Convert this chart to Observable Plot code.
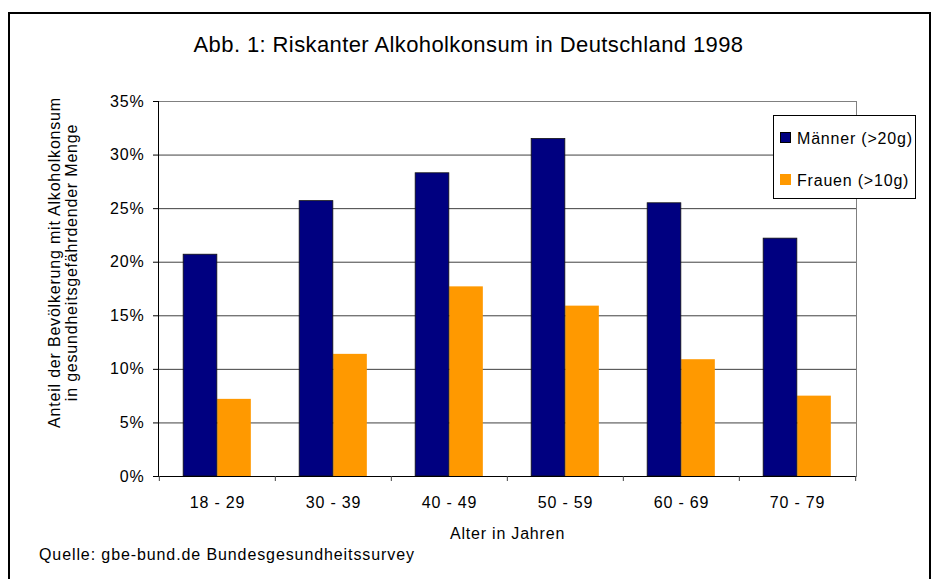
<!DOCTYPE html>
<html>
<head>
<meta charset="utf-8">
<script src="https://cdn.jsdelivr.net/npm/d3@7"></script>
<script src="https://cdn.jsdelivr.net/npm/@observablehq/plot@0.6"></script>
<style>
  html, body { margin: 0; padding: 0; overflow: hidden; background: #fff; }
  #wrap { position: relative; width: 933px; height: 579px; overflow: hidden; font-family: "Liberation Sans", Arial, sans-serif; color: #000; }
  #border { position: absolute; left: 8px; top: 12px; width: 919px; height: 620px; border: 2px solid #000; box-sizing: content-box; }
  #chart { position: absolute; left: 0; top: 0; }
  #title { position: absolute; left: 2px; top: 34px; width: 933px; text-align: center; font-size: 22px; line-height: 22px; letter-spacing: 0.4px; white-space: nowrap; }
  #caption { position: absolute; left: 39px; top: 547px; font-size: 16px; line-height: 16px; letter-spacing: 0.9px; white-space: nowrap; }
  #legend { position: absolute; left: 773px; top: 115px; width: 141px; height: 82px; border: 1px solid #000; background: #fff; font-size: 16px; letter-spacing: 0.8px; }
  .item { position: absolute; left: 6px; white-space: nowrap; }
  .sw { position: absolute; left: 0; width: 11px; height: 11px; box-sizing: border-box; }
  .lt { position: absolute; left: 17px; line-height: 16px; }
</style>
</head>
<body>
<div id="wrap">
  <div id="border"></div>
  <div id="chart"></div>
  <div id="title"></div>
  <div id="legend"></div>
  <div id="caption"></div>
</div>
<script>
// ---- data ----
const ages = ["18 - 29", "30 - 39", "40 - 49", "50 - 59", "60 - 69", "70 - 79"];
const maenner = [20.7, 25.7, 28.3, 31.5, 25.5, 22.2];
const frauen = [7.2, 11.4, 17.7, 15.9, 10.9, 7.5];
const seriesNames = ["Männer (>20g)", "Frauen (>10g)"];
const seriesColors = ["#000080", "#FF9900"];
const yTicks = [0, 5, 10, 15, 20, 25, 30, 35];
const titleText = "Abb. 1: Riskanter Alkoholkonsum in Deutschland 1998";
const yTitle = "Anteil der Bevölkerung mit Alkoholkonsum\nin gesundheitsgefährdender Menge";
const xTitle = "Alter in Jahren";
const captionText = "Quelle: gbe-bund.de Bundesgesundheitssurvey";

// ---- layout ----
const W = 933, H = 579, mL = 158, mR = 77, mT = 101, mB = 103;
const step = (W - mL - mR) / ages.length;
const barW = 34;
const gap = (step - 2 * barW) / 2;

const men = ages.map((a, i) => ({age: a, value: maenner[i]}));
const women = ages.map((a, i) => ({age: a, value: frauen[i]}));

const chart = Plot.plot({
  width: W,
  height: H,
  marginLeft: mL,
  marginRight: mR,
  marginTop: mT,
  marginBottom: mB,
  style: {
    background: "transparent",
    fontFamily: "'Liberation Sans', Arial, sans-serif",
    fontSize: "16px",
    letterSpacing: "0.8px",
    color: "#000",
    overflow: "visible"
  },
  x: {type: "band", domain: ages, padding: 0},
  y: {domain: [0, 35]},
  marks: [
    Plot.ruleY(yTicks.filter(t => t > 0 && t < 35), {stroke: "#404040", strokeWidth: 1}),
    Plot.frame({stroke: "#808080"}),
    Plot.barY(women, {x: "age", y: "value", fill: seriesColors[1], insetLeft: gap + barW, insetRight: gap}),
    Plot.barY(men, {x: "age", y: "value", fill: seriesColors[0], stroke: "#111", strokeWidth: 0.8, insetLeft: gap, insetRight: step - gap - barW}),
    Plot.ruleY([0], {stroke: "#000"}),
    Plot.frame({anchor: "left", stroke: "#000"}),
    Plot.ruleX(ages, {x: d => d, dx: -step / 2, y1: 0, y2: 0, insetBottom: -5, stroke: "#444"}),
    Plot.ruleX([ages[ages.length - 1]], {x: d => d, dx: step / 2, y1: 0, y2: 0, insetBottom: -5, stroke: "#444"}),
    Plot.axisY({ticks: yTicks, tickSize: 5, tickPadding: 9, tickFormat: d => d + "%", label: null, fontSize: 16}),
    Plot.axisX({tickSize: 0, tickPadding: 20, label: null, fontSize: 16}),
    Plot.text([yTitle], {text: d => d, frameAnchor: "left", textAnchor: "middle", rotate: -90, dx: -95.5, dy: -26.5, lineHeight: 1.1, fontSize: 16}),
    Plot.text([xTitle], {text: d => d, frameAnchor: "bottom", lineAnchor: "top", dy: 51.5, fontSize: 16})
  ]
});
document.getElementById("chart").appendChild(chart);

document.getElementById("title").textContent = titleText;
document.getElementById("caption").textContent = captionText;

const legend = document.getElementById("legend");
const itemTops = [16, 58];
seriesNames.forEach((name, i) => {
  const item = document.createElement("div");
  item.className = "item";
  item.style.top = itemTops[i] + "px";
  const sw = document.createElement("div");
  sw.className = "sw";
  sw.style.background = seriesColors[i];
  if (i === 0) sw.style.border = "1px solid #000";
  const lt = document.createElement("div");
  lt.className = "lt";
  lt.style.top = "-1px";
  lt.textContent = name;
  item.appendChild(sw);
  item.appendChild(lt);
  legend.appendChild(item);
});
</script>
</body>
</html>
